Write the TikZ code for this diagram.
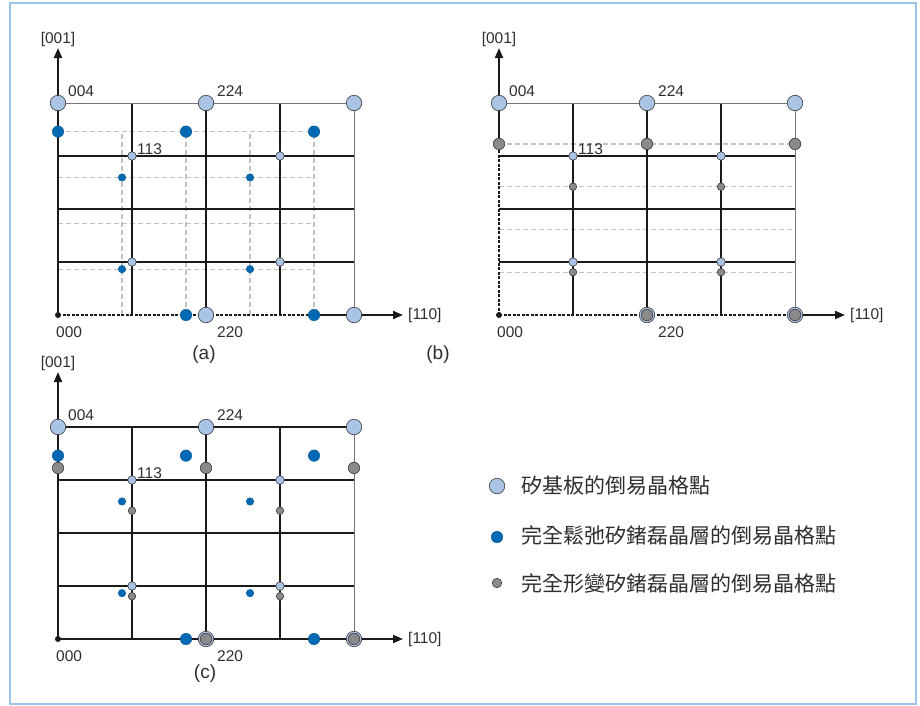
\documentclass[tikz,border=0pt]{standalone}
\usepackage{fontspec}
\setmainfont{Liberation Sans}
\newfontfamily\cjkfont{Noto Sans CJK TC}
\usetikzlibrary{arrows.meta}
\definecolor{sifill}{HTML}{AAC4E6}
\definecolor{relblue}{HTML}{0069B4}
\definecolor{strgray}{HTML}{8A8A8A}
\definecolor{dotline}{HTML}{3A3A3A}
\definecolor{framecol}{HTML}{9DC3EA}
\definecolor{dashgray}{HTML}{C2C2C2}
\definecolor{gridcol}{HTML}{1A1A1A}
\definecolor{edgecol}{HTML}{767676}
\definecolor{txtcol}{HTML}{2E2E2E}
\newcommand{\relf}{0.865}
\newcommand{\strf}{0.807}

\begin{document}
\begin{tikzpicture}[x=1pt,y=1pt,
    sibig/.style={circle,draw=dotline,line width=0.6pt,fill=sifill,
                  inner sep=0pt,minimum size=15.5pt},
    sismall/.style={sibig,minimum size=8.5pt},
    relbig/.style={circle,draw=relblue!80!black,line width=0.4pt,fill=relblue,
                   inner sep=0pt,minimum size=11.5pt},
    relsmall/.style={relbig,minimum size=7.5pt},
    strbig/.style={circle,draw=dotline,line width=0.6pt,fill=strgray,
                   inner sep=0pt,minimum size=11.5pt},
    strsmall/.style={strbig,minimum size=7.5pt},
    orig/.style={circle,fill=gridcol,inner sep=0pt,minimum size=6pt},
    axis/.style={line width=2pt,draw=gridcol,-{Triangle[length=10pt,width=8pt]}},
    axdash/.style={line width=1.4pt,draw=gridcol,dash pattern=on 3pt off 1.5pt},
    grd/.style={line width=1.1pt,draw=gridcol},
    edge/.style={line width=1pt,draw=edgecol},
    dsh/.style={line width=1.2pt,draw=dashgray,dash pattern=on 5pt off 3pt},
    lbl/.style={font=\fontsize{15.5}{18}\selectfont,text=txtcol,inner sep=0pt},
    captxt/.style={font=\fontsize{19}{22}\selectfont,text=txtcol,inner sep=0pt},
    legtxt/.style={font=\fontsize{21}{24}\selectfont\cjkfont,text=txtcol,
                   anchor=west,inner sep=0pt}
  ]
  \useasboundingbox (0,0) rectangle (920,-705);
  \draw[framecol,line width=1.5pt] (10,-3) rectangle (916,-704);

  % (a) Si + relaxed SiGe
  \begin{scope}[shift={(58pt,-315pt)},x=74pt,y=53pt]
    \foreach \j in {1,...,4}
      \draw[dsh] (0,{\j*\relf}) -- ({4*\relf},{\j*\relf});
    \foreach \i in {1,...,4}
      \draw[dsh] ({\i*\relf},0) -- ({\i*\relf},{4*\relf});
    \foreach \j in {1,2,3}
      \draw[grd] (0,\j) -- (4,\j);
    \foreach \i in {1,2,3}
      \draw[grd] (\i,0) -- (\i,4);
    \draw[edge] (0,4) -- (4,4) -- (4,0);
    \draw[axdash] (0,0) -- ({4*\relf},0);

    \coordinate (a-ytip) at (0,{267/53});
    \coordinate (a-xtip) at ({345/74},0);
    \coordinate (a-xbeg) at ({4*\relf},0);
    \node[orig] (a-o) at (0,0) {};
    \draw[axis] (a-o.center) -- (a-ytip);
    \draw[axis] (a-xbeg) -- (a-xtip);

    \foreach \i/\j in {0/4,2/4,4/4,2/0,4/0}
      \node[sibig] (a-s\i\j) at (\i,\j) {};
    \foreach \i/\j in {1/1,3/1,1/3,3/3}
      \node[sismall] (a-s\i\j) at (\i,\j) {};
    \foreach \i/\j in {0/4,2/4,4/4,2/0,4/0}
      \node[relbig] (a-r\i\j) at ({\i*\relf},{\j*\relf}) {};
    \foreach \i/\j in {1/1,3/1,1/3,3/3}
      \node[relsmall] (a-r\i\j) at ({\i*\relf},{\j*\relf}) {};

    \node[lbl,anchor=base] (a-l001) at ([yshift=5pt]a-ytip) {[001]};
    \node[lbl,anchor=west] (a-l110) at ([xshift=5pt]a-xtip) {[110]};
    \node[lbl,anchor=base west] (a-l004) at ([xshift=10pt,yshift=7pt]a-s04.center) {004};
    \node[lbl,anchor=base west] (a-l224) at ([xshift=11pt,yshift=7pt]a-s24.center) {224};
    \node[lbl,anchor=base west] (a-l113) at ([xshift=5pt,yshift=2pt]a-s13.center) {113};
    \node[lbl,anchor=base west] (a-l000) at ([xshift=-2pt,yshift=-22pt]a-o.center) {000};
    \node[lbl,anchor=base west] (a-l220) at ([xshift=11pt,yshift=-22pt]a-s20.center) {220};
  \end{scope}
  \node[captxt] (a-cap) at (204,-355) {(a)};
  \node[captxt] (b-cap) at (438,-355) {(b)};

  % (b) Si + strained SiGe
  \begin{scope}[shift={(499pt,-315pt)},x=74pt,y=53pt]
    \foreach \j in {1,...,4}
      \draw[dsh] (0,{\j*\strf}) -- (4,{\j*\strf});
    \foreach \j in {1,2,3}
      \draw[grd] (0,\j) -- (4,\j);
    \foreach \i in {1,2,3}
      \draw[grd] (\i,0) -- (\i,4);
    \draw[edge] (0,4) -- (4,4) -- (4,0);
    \draw[axdash] (0,0) -- (4,0);
    \draw[axdash] (0,0) -- (0,{4*\strf});

    \coordinate (b-ytip) at (0,{267/53});
    \coordinate (b-xtip) at ({346/74},0);
    \coordinate (b-ybeg) at (0,{4*\strf});
    \coordinate (b-xbeg) at (4,0);
    \node[orig] (b-o) at (0,0) {};
    \draw[axis] (b-ybeg) -- (b-ytip);
    \draw[axis] (b-xbeg) -- (b-xtip);

    \foreach \i/\j in {0/4,2/4,4/4,2/0,4/0}
      \node[sibig] (b-s\i\j) at (\i,\j) {};
    \foreach \i/\j in {1/1,3/1,1/3,3/3}
      \node[sismall] (b-s\i\j) at (\i,\j) {};
    \foreach \i/\j in {0/4,2/4,4/4,2/0,4/0}
      \node[strbig] (b-t\i\j) at (\i,{\j*\strf}) {};
    \foreach \i/\j in {1/1,3/1,1/3,3/3}
      \node[strsmall] (b-t\i\j) at (\i,{\j*\strf}) {};

    \node[lbl,anchor=base] (b-l001) at ([yshift=5pt]b-ytip) {[001]};
    \node[lbl,anchor=west] (b-l110) at ([xshift=5pt]b-xtip) {[110]};
    \node[lbl,anchor=base west] (b-l004) at ([xshift=10pt,yshift=7pt]b-s04.center) {004};
    \node[lbl,anchor=base west] (b-l224) at ([xshift=11pt,yshift=7pt]b-s24.center) {224};
    \node[lbl,anchor=base west] (b-l113) at ([xshift=5pt,yshift=2pt]b-s13.center) {113};
    \node[lbl,anchor=base west] (b-l000) at ([xshift=-2pt,yshift=-22pt]b-o.center) {000};
    \node[lbl,anchor=base west] (b-l220) at ([xshift=11pt,yshift=-22pt]b-s20.center) {220};
  \end{scope}

  % (c) all three lattices
  \begin{scope}[shift={(58pt,-639pt)},x=74pt,y=53pt]
    \foreach \j in {1,2,3}
      \draw[grd] (0,\j) -- (4,\j);
    \foreach \i in {1,2,3}
      \draw[grd] (\i,0) -- (\i,4);
    \draw[grd] (0,4) -- (4,4);
    \draw[edge] (4,4) -- (4,0);
    \draw[grd] (0,0) -- (4,0);

    \coordinate (c-ytip) at (0,{267/53});
    \coordinate (c-xtip) at ({345/74},0);
    \coordinate (c-xbeg) at (4,0);
    \node[orig] (c-o) at (0,0) {};
    \draw[axis] (c-o.center) -- (c-ytip);
    \draw[axis] (c-xbeg) -- (c-xtip);

    \foreach \i/\j in {0/4,2/4,4/4,2/0,4/0}
      \node[sibig] (c-s\i\j) at (\i,\j) {};
    \foreach \i/\j in {1/1,3/1,1/3,3/3}
      \node[sismall] (c-s\i\j) at (\i,\j) {};
    \foreach \i/\j in {0/4,2/4,4/4,2/0,4/0}
      \node[relbig] (c-r\i\j) at ({\i*\relf},{\j*\relf}) {};
    \foreach \i/\j in {1/1,3/1,1/3,3/3}
      \node[relsmall] (c-r\i\j) at ({\i*\relf},{\j*\relf}) {};
    \foreach \i/\j in {0/4,2/4,4/4,2/0,4/0}
      \node[strbig] (c-t\i\j) at (\i,{\j*\strf}) {};
    \foreach \i/\j in {1/1,3/1,1/3,3/3}
      \node[strsmall] (c-t\i\j) at (\i,{\j*\strf}) {};

    \node[lbl,anchor=base] (c-l001) at ([yshift=5pt]c-ytip) {[001]};
    \node[lbl,anchor=west] (c-l110) at ([xshift=5pt]c-xtip) {[110]};
    \node[lbl,anchor=base west] (c-l004) at ([xshift=10pt,yshift=7pt]c-s04.center) {004};
    \node[lbl,anchor=base west] (c-l224) at ([xshift=11pt,yshift=7pt]c-s24.center) {224};
    \node[lbl,anchor=base west] (c-l113) at ([xshift=5pt,yshift=2pt]c-s13.center) {113};
    \node[lbl,anchor=base west] (c-l000) at ([xshift=-2pt,yshift=-22pt]c-o.center) {000};
    \node[lbl,anchor=base west] (c-l220) at ([xshift=11pt,yshift=-22pt]c-s20.center) {220};
  \end{scope}
  \node[captxt] (c-cap) at (205,-674) {(c)};

  % Legend
  \node[sibig] (lg-si) at (497,-486) {};
  \node[relbig] (lg-rel) at (497,-537) {};
  \node[strbig,minimum size=9.5pt] (lg-str) at (497,-583) {};
  \node[legtxt] (lg-sitxt) at (521,-486) {矽基板的倒易晶格點};
  \node[legtxt] (lg-reltxt) at (521,-535) {完全鬆弛矽鍺磊晶層的倒易晶格點};
  \node[legtxt] (lg-strtxt) at (521,-583) {完全形變矽鍺磊晶層的倒易晶格點};

\end{tikzpicture}
\end{document}
